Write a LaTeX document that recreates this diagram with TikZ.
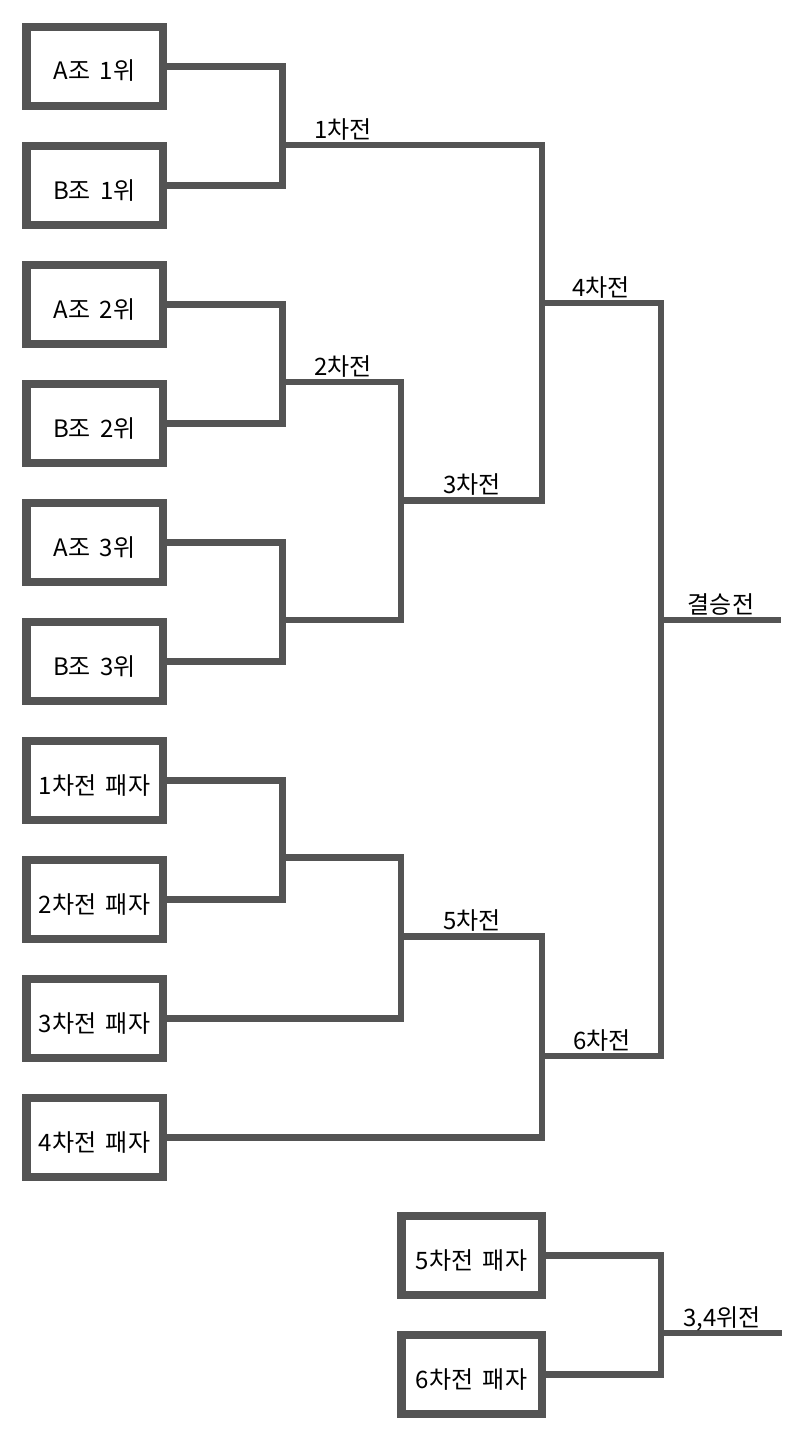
\documentclass[tikz,border=0pt]{standalone}
\usepackage{fontspec}
\setmainfont[WordSpace=1.8]{Noto Sans CJK KR}
\definecolor{bracketgray}{RGB}{84,84,84}
\begin{document}
\begin{tikzpicture}[x=1pt,y=-1pt,
        team/.style={draw=bracketgray,line width=8.5pt,minimum width=136.5pt,minimum height=79pt,
                     inner sep=0pt,text height=27pt,text depth=0pt,font=\fontsize{24}{28}\selectfont},
        link/.style={draw=bracketgray,line width=6.5pt},
        matchlabel/.style={anchor=base,yshift=7pt,inner sep=0pt,font=\fontsize{24}{28}\selectfont}]
                    \useasboundingbox (0,0) rectangle (800,1429);

                    % teams
                    \node[team] (a1) at (94.5,66.5) {A조 1위};
                    \node[team] (b1) at (94.5,185.5) {B조 1위};
                    \node[team] (a2) at (94.5,304.5) {A조 2위};
                    \node[team] (b2) at (94.5,423.5) {B조 2위};
                    \node[team] (a3) at (94.5,542.5) {A조 3위};
                    \node[team] (b3) at (94.5,661.5) {B조 3위};
                    \node[team] (l1) at (94.5,780.5) {1차전 패자};
                    \node[team] (l2) at (94.5,899.5) {2차전 패자};
                    \node[team] (l3) at (94.5,1018.5) {3차전 패자};
                    \node[team] (l4) at (94.5,1137.5) {4차전 패자};
                    \node[team,minimum width=140.5pt] (l5) at (471.5,1255.5) {5차전 패자};
                    \node[team,minimum width=140.5pt] (l6) at (471.5,1374.5) {6차전 패자};

                    % match points
                    \coordinate (m1) at (282.5,145);
                    \coordinate (m2) at (282.5,382);
                    \coordinate (mq) at (282.5,620);
                    \coordinate (m3) at (401,500.5);
                    \coordinate (m4) at (542,303);
                    \coordinate (ml) at (282.5,857.5);
                    \coordinate (m5) at (401,936.5);
                    \coordinate (m6) at (542,1056);
                    \coordinate (mf) at (661,620);
                    \coordinate (fin) at (781,620);
                    \coordinate (m34) at (661,1333);
                    \coordinate (fin34) at (782,1333);

                    \draw[link] (a1.east) -| (m1) |- (b1.east);
                    \draw[link] (a2.east) -| (m2) |- (b2.east);
                    \draw[link] (a3.east) -| (mq) |- (b3.east);
                    \draw[link] (m2) -| (m3) |- (mq);
                    \draw[link] (m1) -| (m4);
                    \draw[link] (m3) -| (m4);

                    \draw[link] (l1.east) -| (ml) |- (l2.east);
                    \draw[link] (ml) -| (m5);
                    \draw[link] (l3.east) -| (m5);
                    \draw[link] (m5) -| (m6);
                    \draw[link] (l4.east) -| (m6);

                    \draw[link] (m4) -| (mf);
                    \draw[link] (m6) -| (mf);
                    \draw[link] (mf) -- (fin);

                    \draw[link] (l5.east) -| (m34) |- (l6.east);
                    \draw[link] (m34) -- (fin34);

                    % labels
                    \node[matchlabel] (t1) at (343,145) {1차전};
                    \node[matchlabel] (t2) at (343,382) {2차전};
                    \node[matchlabel] (t3) at (472,500.5) {3차전};
                    \node[matchlabel] (t4) at (601,303) {4차전};
                    \node[matchlabel] (t5) at (472,936.5) {5차전};
                    \node[matchlabel] (t6) at (602,1056) {6차전};
                    \node[matchlabel] (tf) at (721,620) {결승전};
                    \node[matchlabel] (t34) at (722,1333) {3,4위전};
                    
                \end{tikzpicture}
\end{document}
